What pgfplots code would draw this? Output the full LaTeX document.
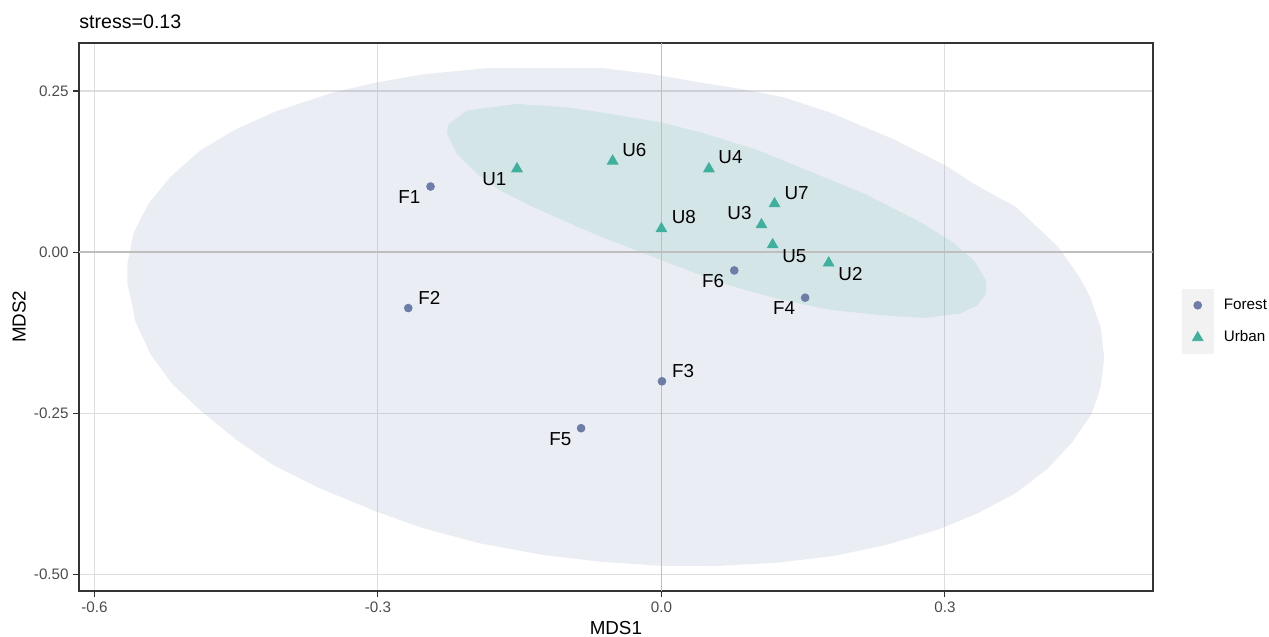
\documentclass[border=0pt]{standalone}
\usepackage{fontspec}
\setmainfont{Liberation Sans}
\usepackage{pgfplots}
\pgfplotsset{compat=1.18}
\usepackage{pgfplotstable}

\definecolor{forestc}{RGB}{108,125,168}
\definecolor{urbanc}{RGB}{64,176,158}
\definecolor{gridc}{RGB}{222,222,222}
\definecolor{zeroc}{RGB}{190,190,190}
\definecolor{framec}{RGB}{51,51,51}
\definecolor{keybg}{RGB}{242,242,242}

\newcommand\tickfont{\fontsize{7.6bp}{9bp}\selectfont}
\newcommand\labfont{\fontsize{9.4bp}{11bp}\selectfont}
\newcommand\axtitlefont{\fontsize{9.4bp}{11bp}\selectfont}
\newcommand\titlefont{\fontsize{9.8bp}{12bp}\selectfont}
\newcommand\legfont{\fontsize{7.6bp}{9bp}\selectfont}

% NMDS site scores (label offsets in bp)
\pgfplotstableread{
x        y        lab  dx      dy
-0.2443  0.1018   F1   -10.65  -5.35
-0.2679  -0.0868  F2   10.50   5.20
0.0006   -0.2004  F3   10.55   5.00
0.1521   -0.0707  F4   -10.55  -5.35
-0.0850  -0.2732  F5   -10.35  -5.65
0.0771   -0.0284  F6   -10.55  -5.35
}\foresttab

\pgfplotstableread{
x        y        lab  dx      dy
-0.1528  0.1293   U1   -11.35  -5.37
0.1770   -0.0168  U2   10.90   -5.72
0.1059   0.0425   U3   -11.00  5.63
0.0503   0.1293   U4   10.75   5.63
0.1177   0.0115   U5   10.90   -5.72
-0.0516  0.1413   U6   10.85   5.28
0.1197   0.0751   U7   11.00   5.28
0.0000   0.0363   U8   11.25   5.63
}\urbantab

% 95% confidence ellipses (polygon outlines)
\pgfplotstableread{
x        y
-0.0646  0.2860
-0.1846  0.2855
-0.2517  0.2760
-0.3010  0.2634
-0.3470  0.2479
-0.4105  0.2170
-0.4529  0.1886
-0.4881  0.1576
-0.5199  0.1162
-0.5429  0.0750
-0.5588  0.0285
-0.5651  -0.0180
-0.5651  -0.0490
-0.5588  -0.0903
-0.5570  -0.1058
-0.5411  -0.1574
-0.5181  -0.2039
-0.4881  -0.2453
-0.4493  -0.2918
-0.4105  -0.3306
-0.3611  -0.3667
-0.3010  -0.4029
-0.2517  -0.4286
-0.1917  -0.4519
-0.1246  -0.4700
-0.0646  -0.4804
-0.0012  -0.4866
0.0584   -0.4871
0.1256   -0.4813
0.1815   -0.4716
0.2374   -0.4545
0.2933   -0.4302
0.3344   -0.4054
0.3754   -0.3735
0.4089   -0.3357
0.4350   -0.2944
0.4555   -0.2504
0.4648   -0.2092
0.4686   -0.1652
0.4648   -0.1162
0.4536   -0.0697
0.4425   -0.0387
0.4201   0.0077
0.3754   0.0697
0.3306   0.1060
0.3008   0.1344
0.2449   0.1757
0.1778   0.2170
0.1293   0.2402
0.0845   0.2532
0.0398   0.2634
-0.0087  0.2760
}\forestell

\pgfplotstableread{
x        y
-0.0646  0.2170
-0.0999  0.2247
-0.1528  0.2300
-0.2057  0.2196
-0.2252  0.1990
-0.2269  0.1835
-0.2163  0.1525
-0.1952  0.1215
-0.1705  0.0956
-0.1352  0.0697
-0.0999  0.0465
-0.0646  0.0243
0.0100   -0.0180
0.0659   -0.0490
0.1219   -0.0722
0.1778   -0.0893
0.2337   -0.0981
0.2784   -0.1023
0.3158   -0.0955
0.3344   -0.0826
0.3437   -0.0645
0.3437   -0.0439
0.3306   -0.0129
0.3082   0.0155
0.2710   0.0491
0.2151   0.0905
0.1592   0.1240
0.1032   0.1576
0.0472   0.1835
-0.0012  0.2015
}\urbanell

\begin{document}
\begin{tikzpicture}
\useasboundingbox (-39.5bp,-23bp) rectangle (595bp,295.5bp);
\begin{axis}[
  at={(0,0)}, anchor=south west,
  scale only axis, width=536.85bp, height=274.15bp,
  xmin=-0.6163, xmax=0.5199, ymin=-0.5258, ymax=0.325,
  xtick={-0.6,-0.3,0,0.3}, xticklabels={-0.6,-0.3,0.0,0.3},
  ytick={-0.5,-0.25,0,0.25}, yticklabels={-0.50,-0.25,0.00,0.25},
  xtick pos=left, ytick pos=left,
  tick align=outside, major tick length=2.85bp,
  tick style={draw=framec, line width=0.55bp},
  axis line style={draw=framec, line width=1bp},
  grid=major,
  major grid style={draw=gridc, line width=0.55bp},
  ticklabel style={font=\tickfont, text=black!70, inner sep=0pt},
  xticklabel style={anchor=north, yshift=-2.5bp},
  yticklabel style={anchor=east, xshift=-2.15bp},
  legend cell align=left,
  legend style={at={(1.02682,0.49152)}, anchor=west, draw=none, fill=none,
    inner sep=0pt, outer sep=0pt, row sep=0pt, column sep=5bp,
    font=\legfont, nodes={inner sep=0pt}},
]
% ellipses
\addplot[forget plot, draw=none, fill=forestc, fill opacity=0.14] table[x=x,y=y] {\forestell} -- cycle;
\addplot[forget plot, draw=none, fill=urbanc, fill opacity=0.13] table[x=x,y=y] {\urbanell} -- cycle;
% reference lines through the origin
\addplot[forget plot, draw=zeroc, line width=0.75bp] coordinates {(-0.6163,0) (0.5199,0)};
\addplot[forget plot, draw=zeroc, line width=0.75bp] coordinates {(0,-0.5258) (0,0.325)};
% sites
\addplot[forget plot, only marks, mark=*, mark size=1.95bp, color=forestc,
  mark options={draw=none, fill=forestc},
  nodes near coords, point meta=explicit symbolic,
  visualization depends on={\thisrow{dx}\as\labdx},
  visualization depends on={\thisrow{dy}\as\labdy},
  every node near coord/.style={anchor=center, inner sep=0pt, text=black,
    font=\labfont, xshift=\labdx*1bp, yshift=\labdy*1bp}]
  table[x=x,y=y,meta=lab] {\foresttab};
\addplot[forget plot, only marks, mark=triangle*, mark size=3.05bp, color=urbanc,
  mark options={draw=none, fill=urbanc},
  nodes near coords, point meta=explicit symbolic,
  visualization depends on={\thisrow{dx}\as\labdx},
  visualization depends on={\thisrow{dy}\as\labdy},
  every node near coord/.style={anchor=center, inner sep=0pt, text=black,
    font=\labfont, xshift=\labdx*1bp, yshift=\labdy*1bp}]
  table[x=x,y=y,meta=lab] {\urbantab};
% legend keys
\addlegendimage{legend image code/.code={%
  \fill[keybg] (-7.9bp,-7.9bp) rectangle (7.9bp,7.9bp);
  \draw[forestc, mark=*, mark size=1.95bp, mark options={draw=none, fill=forestc}]
    plot coordinates {(0bp,0bp)};}}
\addlegendentry{Forest}
\addlegendimage{legend image code/.code={%
  \fill[keybg] (-7.9bp,-7.9bp) rectangle (7.9bp,7.9bp);
  \draw[urbanc, mark=triangle*, mark size=3.05bp, mark options={draw=none, fill=urbanc}]
    plot coordinates {(0bp,0bp)};}}
\addlegendentry{Urban}
\end{axis}
\node[anchor=base west, inner sep=0pt, font=\titlefont] at (0bp,281.35bp) {stress=0.13};
\node[anchor=base, inner sep=0pt, font=\axtitlefont] at (268.43bp,-21.65bp) {MDS1};
\node[anchor=base, rotate=90, inner sep=0pt, font=\axtitlefont] at (-26.75bp,137.08bp) {MDS2};
\end{tikzpicture}
\end{document}
